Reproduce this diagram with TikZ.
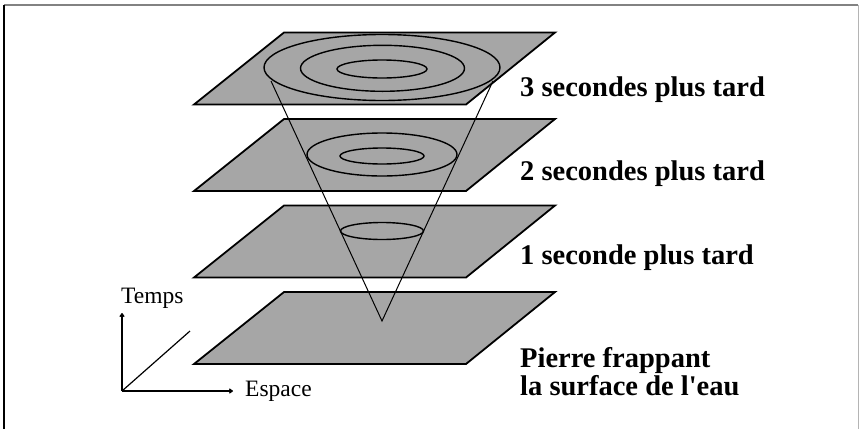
\documentclass[tikz,border=0pt]{standalone}
\usepackage{fontspec}
\setmainfont{Liberation Serif}[Ligatures=TeXOff]
\usetikzlibrary{arrows.meta}
\definecolor{planegray}{RGB}{166,166,166}
\definecolor{framegray}{RGB}{130,130,130}
\tikzset{
  plane/.style={fill=planegray, draw=black, line width=1.8pt, line join=miter},
  ring/.style={draw=black, line width=1.4pt},
  coneline/.style={draw=black, line width=1pt},
  axis/.style={draw=black, line width=1.2pt},
  lbl/.style={font=\fontsize{28.5}{30}\selectfont\bfseries, anchor=base west, inner sep=0pt},
  axlbl/.style={font=\fontsize{23.5}{25}\selectfont, anchor=base west, inner sep=0pt}
}
\begin{document}
\begin{tikzpicture}[x=1pt,y=-1pt]
\useasboundingbox (0,0) rectangle (865,429);
% frame
\draw[framegray, line width=1.5pt] (4,5) -- (858,5);
\draw[framegray!60, line width=1pt] (858,5) -- (858,429);
\draw[black, line width=1.5pt] (4,5) -- (4,429);
% planes
\foreach \t in {32.5, 119, 205.5, 292}{
  \draw[plane] (194,\t+72) -- (466,\t+72) -- (555,\t) -- (284,\t) -- cycle;
}
% rings on top plane (3 s)
\draw[ring] (382,67.5) ellipse [x radius=118pt, y radius=33pt];
\draw[ring] (382.5,68.3) ellipse [x radius=82pt, y radius=23pt];
\draw[ring] (382,69) ellipse [x radius=45pt, y radius=9pt];
% rings on second plane (2 s)
\draw[ring] (382,154.5) ellipse [x radius=75pt, y radius=21.5pt];
\draw[ring] (382,156) ellipse [x radius=42pt, y radius=8pt];
% ring on third plane (1 s)
\draw[ring] (382,231) ellipse [x radius=41.5pt, y radius=8.5pt];
% cone
\coordinate (apex) at (382,321);
\coordinate (cl) at (271,81);
\coordinate (cr) at (493,81);
\draw[coneline] (cl) -- (apex) -- (cr);
% axes
\coordinate (o) at (122,391);
\coordinate (tt) at (122,313);
\coordinate (te) at (233,391);
\coordinate (td) at (190,331);
\draw[axis, -{To[length=4pt,width=5pt]}] (o) -- (tt);
\draw[axis, -{To[length=4pt,width=5pt]}] (o) -- (te);
\draw[axis] (o) -- (td);
\node[axlbl] (temps) at (121,303) {Temps};
\node[axlbl] (espace) at (245,396) {Espace};
% labels
\node[lbl] (l3) at (520,96) {3 secondes plus tard};
\node[lbl] (l2) at (520,180) {2 secondes plus tard};
\node[lbl] (l1) at (520,264) {1 seconde plus tard};
\node[lbl] (l0a) at (520,367) {Pierre frappant};
\node[lbl] (l0b) at (520,395) {la surface de l'eau};
\end{tikzpicture}
\end{document}
